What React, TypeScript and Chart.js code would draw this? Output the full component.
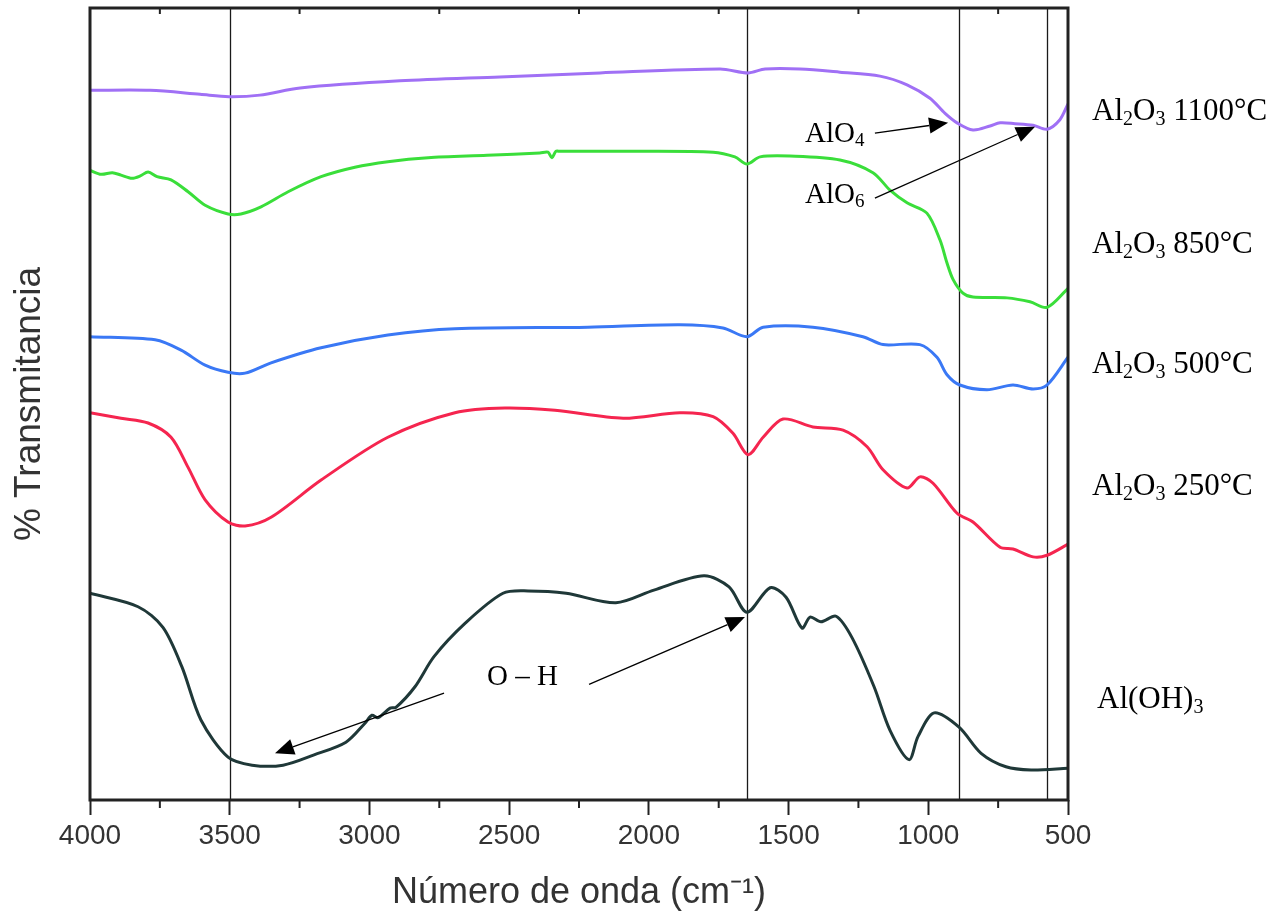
import React, { useEffect, useRef } from "react";
import { Chart, registerables } from "chart.js";

Chart.register(...registerables);

// Wavenumber (cm-1) and relative transmittance (a.u., stacked)
const wnPurple = [4000, 3785, 3606, 3503, 3392, 3248, 2891, 2533, 2175, 1745, 1645, 1584, 1459, 1316, 1173, 1076, 994, 940, 897, 840, 779, 743, 690, 625, 575, 529, 500];
const tPurple = [89.6, 89.6, 89.1, 88.8, 89.0, 89.9, 90.8, 91.3, 91.8, 92.3, 91.8, 92.3, 92.3, 91.9, 91.4, 90.3, 88.6, 86.7, 85.5, 84.6, 85.1, 85.5, 85.4, 85.2, 84.7, 85.9, 87.9];

const wnGreen = [4000, 3960, 3920, 3889, 3850, 3820, 3792, 3760, 3710, 3649, 3588, 3506, 3460, 3388, 3291, 3173, 3052, 2934, 2790, 2579, 2390, 2361, 2347, 2333, 2318, 2103, 1770, 1692, 1649, 1602, 1495, 1316, 1198, 1137, 1076, 1005, 958, 933, 911, 876, 840, 718, 636, 575, 500];
const tGreen = [79.5, 79.0, 79.2, 78.9, 78.5, 78.8, 79.3, 78.7, 78.3, 76.8, 75.1, 74.0, 74.0, 74.9, 76.8, 78.7, 79.9, 80.6, 81.1, 81.4, 81.7, 81.8, 81.1, 81.9, 81.9, 81.9, 81.8, 81.2, 80.3, 81.2, 81.3, 80.8, 79.2, 77.0, 75.4, 74.1, 70.7, 67.8, 65.7, 64.0, 63.5, 63.4, 62.9, 62.2, 64.6];

const wnBlue = [4000, 3767, 3674, 3588, 3506, 3445, 3352, 3173, 2934, 2694, 2218, 1889, 1735, 1649, 1591, 1413, 1234, 1162, 1030, 969, 933, 887, 790, 697, 625, 575, 500];
const tBlue = [58.5, 58.1, 56.8, 54.9, 54.0, 53.9, 55.2, 57.1, 58.7, 59.5, 59.7, 60.0, 59.6, 58.5, 59.7, 59.7, 58.5, 57.5, 57.5, 55.9, 53.7, 52.4, 51.8, 52.4, 51.9, 52.4, 55.9];

const wnRed = [4000, 3889, 3792, 3710, 3649, 3588, 3506, 3445, 3352, 3173, 2934, 2694, 2515, 2336, 2092, 1889, 1770, 1699, 1645, 1591, 1520, 1413, 1305, 1219, 1162, 1076, 1030, 983, 897, 840, 743, 697, 625, 575, 500];
const tRed = [48.9, 48.2, 47.6, 45.8, 42.0, 37.9, 35.1, 34.6, 35.7, 40.4, 45.8, 48.9, 49.5, 49.2, 48.2, 48.9, 48.4, 46.3, 43.6, 45.8, 48.1, 47.1, 46.7, 44.6, 41.7, 39.4, 40.8, 40.0, 36.2, 35.1, 31.9, 31.7, 30.7, 30.9, 32.3];

const wnBlack = [4000, 3828, 3739, 3671, 3603, 3506, 3420, 3309, 3198, 3084, 3016, 2991, 2969, 2926, 2905, 2837, 2769, 2658, 2522, 2432, 2296, 2118, 1982, 1803, 1713, 1649, 1566, 1509, 1452, 1423, 1384, 1330, 1273, 1194, 1137, 1069, 1037, 979, 890, 811, 722, 632, 500];
const tBlack = [26.1, 24.4, 21.8, 16.8, 10.1, 5.4, 4.4, 4.4, 5.7, 7.3, 9.7, 10.7, 10.4, 11.6, 11.7, 14.3, 18.1, 22.3, 26.1, 26.4, 26.1, 24.9, 26.5, 28.3, 26.9, 23.7, 26.8, 25.6, 21.7, 23.1, 22.5, 23.2, 20.5, 14.3, 8.8, 5.1, 8.0, 11.0, 9.2, 5.9, 4.2, 3.8, 4.0];

// Marked bands (cm-1)
const markerLines = [3500, 1648, 890, 576];
// Axis ticks
const majorTicks = [4000, 3500, 3000, 2500, 2000, 1500, 1000, 500];
const minorTicks = [3750, 3250, 2750, 2250, 1750, 1250, 750];

// Series labels (right side): text parts [text, isSubscript], anchored at transmittance level
const seriesLabels: { parts: [string, number][]; t: number; dx: number }[] = [
  { parts: [["Al", 0], ["2", 1], ["O", 0], ["3", 1], [" 1100°C", 0]], t: 85.9, dx: 24 },
  { parts: [["Al", 0], ["2", 1], ["O", 0], ["3", 1], [" 850°C", 0]], t: 69.1, dx: 24 },
  { parts: [["Al", 0], ["2", 1], ["O", 0], ["3", 1], [" 500°C", 0]], t: 53.9, dx: 24 },
  { parts: [["Al", 0], ["2", 1], ["O", 0], ["3", 1], [" 250°C", 0]], t: 38.5, dx: 24 },
  { parts: [["Al(OH)", 0], ["3", 1]], t: 11.6, dx: 29 },
];

// Annotations in data coordinates [wavenumber, transmittance]
const notes: { parts: [string, number][]; at: [number, number] }[] = [
  { parts: [["AlO", 0], ["4", 1]], at: [1441, 83.1] },
  { parts: [["AlO", 0], ["6", 1]], at: [1441, 75.4] },
  { parts: [["O – H", 0]], at: [2579, 14.5] },
];
const arrows: { from: [number, number]; to: [number, number] }[] = [
  { from: [1191, 84.2], to: [929, 85.5] },
  { from: [1191, 76.0], to: [618, 85.0] },
  { from: [2733, 13.5], to: [3338, 5.9] },
  { from: [2214, 14.6], to: [1656, 23.1] },
];

const SERIF = '"Liberation Serif", "Times New Roman", serif';
const SANS = '"Liberation Sans", Arial, sans-serif';

function drawRich(ctx: CanvasRenderingContext2D, x: number, y: number, parts: [string, number][], size: number) {
  let cx = x;
  for (const [txt, sub] of parts) {
    const s = sub ? Math.round(size * 0.66) : size;
    ctx.font = `${s}px ${SERIF}`;
    ctx.fillText(txt, cx, sub ? y + size * 0.16 : y);
    cx += ctx.measureText(txt).width;
  }
}

function drawArrow(ctx: CanvasRenderingContext2D, x1: number, y1: number, x2: number, y2: number) {
  const ang = Math.atan2(y2 - y1, x2 - x1);
  const L = 19, W = 8;
  const bx = x2 - L * Math.cos(ang), by = y2 - L * Math.sin(ang);
  ctx.beginPath();
  ctx.moveTo(x1, y1);
  ctx.lineTo(bx, by);
  ctx.stroke();
  ctx.beginPath();
  ctx.moveTo(x2, y2);
  ctx.lineTo(bx + W * Math.sin(ang), by - W * Math.cos(ang));
  ctx.lineTo(bx - W * Math.sin(ang), by + W * Math.cos(ang));
  ctx.closePath();
  ctx.fill();
}

const overlay = {
  id: "overlay",
  beforeDatasetsDraw(chart: any) {
    const { ctx, chartArea: a, scales } = chart;
    const x = scales.x;
    ctx.save();
    ctx.strokeStyle = "#1a1a1a";
    ctx.lineWidth = 1.3;
    markerLines.forEach((w) => {
      const px = Math.round(x.getPixelForValue(w)) + 0.5;
      ctx.beginPath();
      ctx.moveTo(px, a.top);
      ctx.lineTo(px, a.bottom);
      ctx.stroke();
    });
    ctx.restore();
  },
  afterDraw(chart: any) {
    const { ctx, chartArea: a, scales } = chart;
    const x = scales.x, y = scales.y;
    ctx.save();
    // frame
    ctx.strokeStyle = "#222";
    ctx.lineWidth = 3;
    ctx.strokeRect(a.left, a.top, a.right - a.left, a.bottom - a.top);
    // minor ticks (bottom outward, top inward)
    ctx.lineWidth = 2;
    minorTicks.forEach((w) => {
      const px = x.getPixelForValue(w);
      ctx.beginPath();
      ctx.moveTo(px, a.bottom);
      ctx.lineTo(px, a.bottom + 8);
      ctx.moveTo(px, a.top);
      ctx.lineTo(px, a.top + 6);
      ctx.stroke();
    });
    // series labels
    ctx.fillStyle = "#000";
    ctx.textBaseline = "alphabetic";
    ctx.textAlign = "left";
    seriesLabels.forEach((l) => {
      drawRich(ctx, a.right + l.dx, y.getPixelForValue(l.t), l.parts, 31);
    });
    // annotations
    notes.forEach((n) => {
      drawRich(ctx, x.getPixelForValue(n.at[0]), y.getPixelForValue(n.at[1]), n.parts, 29);
    });
    ctx.strokeStyle = "#000";
    ctx.fillStyle = "#000";
    ctx.lineWidth = 1.3;
    arrows.forEach((r) => {
      drawArrow(
        ctx,
        x.getPixelForValue(r.from[0]), y.getPixelForValue(r.from[1]),
        x.getPixelForValue(r.to[0]), y.getPixelForValue(r.to[1])
      );
    });
    ctx.restore();
  },
};

const series = [
  { label: "Al2O3 1100°C", wn: wnPurple, t: tPurple, color: "#a070f5" },
  { label: "Al2O3 850°C", wn: wnGreen, t: tGreen, color: "#3ade3a" },
  { label: "Al2O3 500°C", wn: wnBlue, t: tBlue, color: "#3a78f5" },
  { label: "Al2O3 250°C", wn: wnRed, t: tRed, color: "#f5254f" },
  { label: "Al(OH)3", wn: wnBlack, t: tBlack, color: "#1f3838" },
];

export default function App() {
  const ref = useRef<HTMLCanvasElement | null>(null);
  useEffect(() => {
    if (!ref.current) return;
    const chart = new Chart(ref.current, {
      type: "line",
      data: {
        datasets: series.map((s) => ({
          label: s.label,
          data: s.wn.map((w, i) => ({ x: w, y: s.t[i] })),
          borderColor: s.color,
          backgroundColor: s.color,
          borderWidth: 3,
          pointRadius: 0,
          tension: 0.3,
          fill: false,
        })),
      },
      options: {
        responsive: false,
        animation: false,
        devicePixelRatio: 1,
        layout: { padding: { top: 8, right: 212, left: 0, bottom: 0 } },
        plugins: { legend: { display: false }, tooltip: { enabled: false } },
        scales: {
          x: {
            type: "linear",
            reverse: true,
            min: 500,
            max: 4000,
            afterBuildTicks: (s: any) => {
              s.ticks = majorTicks.map((v) => ({ value: v }));
            },
            ticks: {
              font: { family: SANS, size: 28 },
              color: "#333",
              padding: 4,
              maxRotation: 0,
              autoSkip: false,
              callback: (v: any) => String(v),
            },
            grid: { drawOnChartArea: false, tickLength: 15, tickColor: "#222", tickWidth: 2 },
            border: { display: false },
            title: {
              display: true,
              text: "Número de onda (cm⁻¹)",
              font: { family: SANS, size: 36 },
              color: "#333",
              padding: { top: 0, bottom: 6 },
            },
            afterFit: (s: any) => {
              s.height = 121;
            },
          },
          y: {
            min: 0,
            max: 100,
            ticks: { display: false },
            grid: { display: false },
            border: { display: false },
            title: {
              display: true,
              text: "% Transmitancia",
              font: { family: SANS, size: 37 },
              color: "#333",
              padding: { top: 8, bottom: 0 },
            },
            afterFit: (s: any) => {
              s.width = 90;
            },
          },
        },
      } as any,
      plugins: [overlay],
    });
    return () => chart.destroy();
  }, []);
  return (
    <div style={{ position: "fixed", left: 0, top: 0, width: 1280, height: 921, background: "#fff" }}>
      <canvas ref={ref} width={1280} height={921} />
    </div>
  );
}
